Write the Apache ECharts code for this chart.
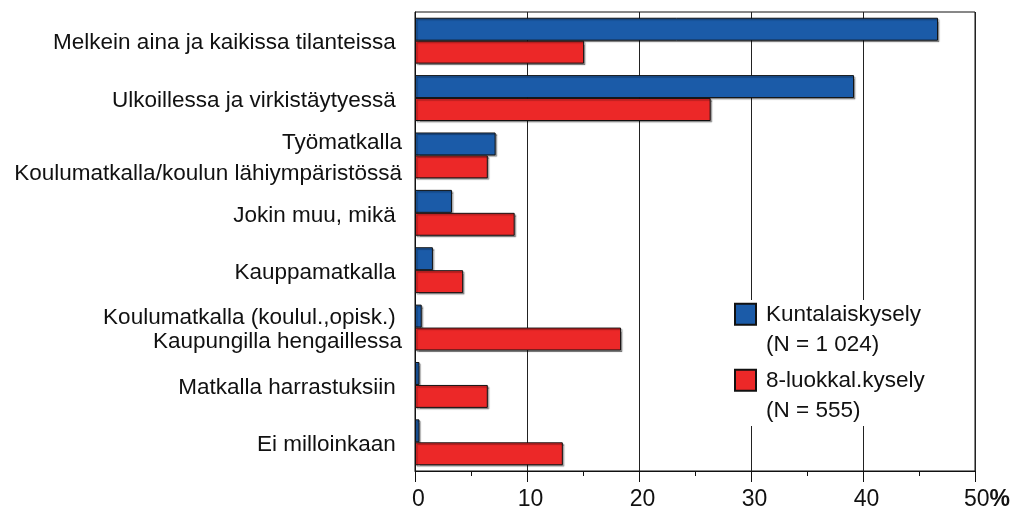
<!DOCTYPE html>
<html>
<head>
<meta charset="utf-8">
<script src="https://cdn.jsdelivr.net/npm/echarts@6/dist/echarts.min.js"></script>
<style>
  html, body { margin: 0; padding: 0; background: #fff; }
  #chart { width: 1014px; height: 513px; }
</style>
</head>
<body>
<div id="chart"></div>
<script>
// categories (top to bottom); second line of a two-line label belongs to the red bar
const categories = [
  'Melkein aina ja kaikissa tilanteissa ',
  'Ulkoillessa ja virkistäytyessä ',
  'Työmatkalla\nKoulumatkalla/koulun lähiympäristössä',
  'Jokin muu, mikä ',
  'Kauppamatkalla ',
  'Koulumatkalla (koulul.,opisk.) \nKaupungilla hengaillessa',
  'Matkalla harrastuksiin ',
  'Ei milloinkaan '
];
const seriesNames = ['Kuntalaiskysely', '8-luokkal.kysely'];
const sampleSizes = ['(N = 1 024)', '(N = 555)'];
const kuntalaisValues = [46.7, 39.2, 7.2, 3.3, 1.6, 0.6, 0.4, 0.4];
const luokkaValues = [15.1, 26.4, 6.5, 8.9, 4.3, 18.4, 6.5, 13.2];
const xTicks = [0, 10, 20, 30, 40, 50];

const FONT = '"Liberation Sans", Arial, sans-serif';
const BLUE = '#1b5ba8';
const RED = '#ec2828';

const chart = echarts.init(document.getElementById('chart'));

const barStyle = (color) => ({
  color: color,
  borderColor: '#111',
  borderWidth: 1,
  shadowColor: 'rgba(0,0,0,0.35)',
  shadowOffsetX: 1.5,
  shadowOffsetY: 1.5,
  shadowBlur: 1
});

const option = {
  backgroundColor: '#fff',
  animation: false,
  textStyle: { fontFamily: FONT, color: '#111' },
  grid: {
    left: 415,
    right: 39,
    top: 12,
    bottom: 42,
    show: true,
    borderColor: '#111',
    borderWidth: 1,
    backgroundColor: 'transparent'
  },
  legend: {
    orient: 'vertical',
    left: 734,
    top: 300,
    padding: 0,
    itemGap: 6,
    itemWidth: 21,
    itemHeight: 52.5,
    // square on top, empty space below so it lines up with the first text line
    icon: 'path://M0,0L20,0L20,20L0,20Z M0,50',
    backgroundColor: '#fff',
    data: seriesNames,
    formatter: (name) => name + '\n' + sampleSizes[seriesNames.indexOf(name)],
    textStyle: {
      fontFamily: FONT,
      fontSize: 22.5,
      lineHeight: 30,
      color: '#111',
      padding: [0, 0, 0, 5]
    }
  },
  xAxis: {
    type: 'value',
    min: 0,
    max: 50,
    interval: 10,
    axisLine: { show: true, lineStyle: { color: '#111', width: 1 } },
    axisTick: { show: true, length: 11, lineStyle: { color: '#111' } },
    minorTick: { show: true, splitNumber: 2, length: 5, lineStyle: { color: '#111' } },
    splitLine: { show: true, lineStyle: { color: '#222', width: 1 } },
    axisLabel: {
      fontFamily: FONT,
      fontSize: 23,
      color: '#111',
      margin: 17,
      padding: [0, 0, 0, 7],
      formatter: (v) => (v === xTicks[xTicks.length - 1] ? '{n|' + v + '}{p|%}' : String(v)),
      rich: {
        n: { fontFamily: FONT, fontSize: 23, color: '#111', padding: [0, 0, 0, 17] },
        p: { fontFamily: FONT, fontSize: 23, fontWeight: 'bold', color: '#111' }
      }
    }
  },
  yAxis: {
    type: 'category',
    inverse: true,
    data: categories,
    axisLine: { show: true, lineStyle: { color: '#111', width: 1 } },
    axisTick: { show: false },
    splitLine: { show: false },
    axisLabel: {
      fontFamily: FONT,
      fontSize: 22.5,
      color: '#111',
      margin: 13,
      padding: [5, 0, 0, 0],
      formatter: (v, i) => {
        if (v.indexOf('\n') < 0) return v;
        const tag = i === 2 ? 'w' : 'c';
        return v.split('\n').map((s) => '{' + tag + '|' + s + '}').join('\n');
      },
      rich: {
        w: { fontFamily: FONT, fontSize: 22.5, color: '#111', lineHeight: 31 },
        c: { fontFamily: FONT, fontSize: 22.5, color: '#111', lineHeight: 24 }
      }
    }
  },
  series: [
    {
      name: seriesNames[0],
      type: 'bar',
      data: kuntalaisValues,
      barGap: '0%',
      barCategoryGap: '20%',
      itemStyle: barStyle(BLUE)
    },
    {
      name: seriesNames[1],
      type: 'bar',
      data: luokkaValues,
      barGap: '0%',
      barCategoryGap: '20%',
      itemStyle: barStyle(RED)
    }
  ]
};

chart.setOption(option);
</script>
</body>
</html>
